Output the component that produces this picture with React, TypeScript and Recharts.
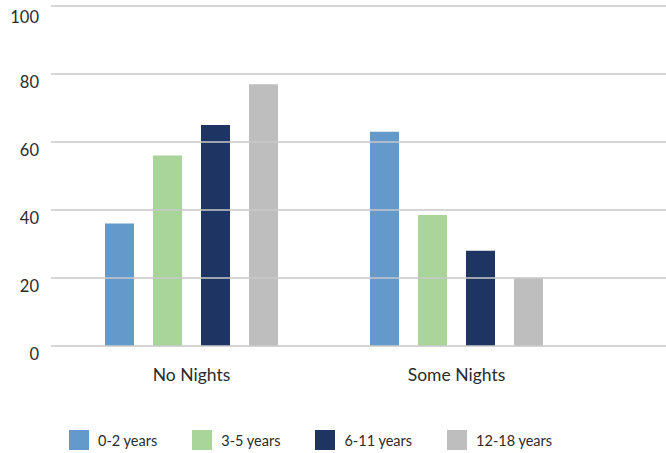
import React from "react";
import { BarChart, Bar, XAxis, YAxis, ReferenceLine, Legend } from "recharts";

const categories = ["No Nights", "Some Nights"];
const age0to2 = [36, 63];
const age3to5 = [56, 38.5];
const age6to11 = [65, 28];
const age12to18 = [77, 20];
const yTicks = [0, 20, 40, 60, 80, 100];

const seriesDefs = [
  { key: "a", name: "0-2 years", values: age0to2, color: "#6499CB" },
  { key: "b", name: "3-5 years", values: age3to5, color: "#A9D59A" },
  { key: "c", name: "6-11 years", values: age6to11, color: "#1E3563" },
  { key: "d", name: "12-18 years", values: age12to18, color: "#BEBEBE" },
];

const data = categories.map((c, i) => {
  const row: Record<string, any> = { category: c };
  seriesDefs.forEach((s) => (row[s.key] = s.values[i]));
  return row;
});

const FONT = "Lato, 'Open Sans', sans-serif";
const TEXT = "#2b2b2b";

const YTick = (props: any) => {
  const { x, y, payload } = props;
  return (
    <text x={x - 4} y={y + 8} textAnchor="end" dominantBaseline="central" fill={TEXT} fontSize={16.5} fontFamily={FONT}>
      {payload.value}
    </text>
  );
};

const LegendContent = (props: any) => {
  const { payload } = props;
  const order = seriesDefs.map((s) => s.name);
  const items = [...payload].sort((a: any, b: any) => order.indexOf(a.value) - order.indexOf(b.value));
  return (
    <div style={{ display: "flex", paddingLeft: 69, paddingTop: 34, height: 57, boxSizing: "border-box", gap: 35 }}>
      {items.map((p: any) => (
        <div key={p.value} style={{ display: "flex", alignItems: "center", height: 20 }}>
          <div style={{ width: 20, height: 20, background: p.color, marginRight: 9 }} />
          <span style={{ fontFamily: FONT, fontSize: 14.5, color: TEXT }}>{p.value}</span>
        </div>
      ))}
    </div>
  );
};

export default function App() {
  return (
    <div style={{ position: "absolute", left: 0, top: 0, background: "#fff" }}>
      <BarChart width={666} height={453} data={data} margin={{ top: 6, right: 0, left: 0, bottom: 0 }} barGap={19}>
        <XAxis
          dataKey="category"
          axisLine={false}
          tickLine={false}
          height={50}
          tickMargin={17}
          padding={{ left: 8, right: 77 }}
          tick={{ fill: TEXT, fontSize: 17.5, fontFamily: FONT }}
        />
        <YAxis
          domain={[0, 100]}
          ticks={yTicks}
          axisLine={false}
          tickLine={false}
          width={51}
          tick={<YTick />}
        />
        {seriesDefs.map((s) => (
          <Bar key={s.key} dataKey={s.key} name={s.name} fill={s.color} barSize={29} isAnimationActive={false} />
        ))}
        {yTicks.map((t) => (
          <ReferenceLine key={t} y={t} stroke="#C8C8C8" strokeWidth={1.5} />
        ))}
        <Legend verticalAlign="bottom" height={57} content={<LegendContent />} />
      </BarChart>
    </div>
  );
}
